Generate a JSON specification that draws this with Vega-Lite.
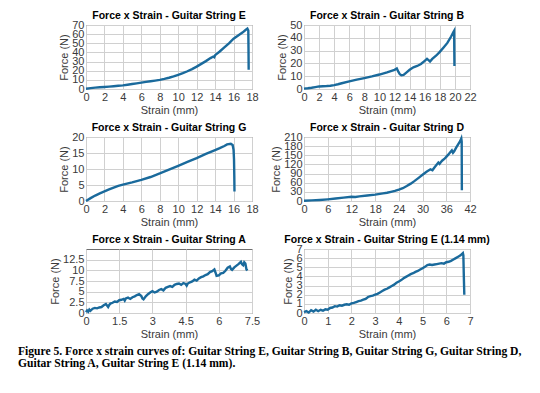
{
  "$schema": "https://vega.github.io/schema/vega-lite/v6.json",
  "background": "white",
  "padding": {"left": 18, "top": 10, "right": 5, "bottom": 5},
  "datasets": {
    "E": [
      {"x":0,"y":0.3},{"x":0.5,"y":1},{"x":1,"y":1.5},{"x":1.5,"y":1.9},{"x":2,"y":2.2},{"x":2.5,"y":2.6},{"x":3,"y":3},{"x":3.5,"y":3.5},{"x":4,"y":4},{"x":4.5,"y":4.7},{"x":5,"y":5.4},{"x":5.5,"y":6.2},{"x":6,"y":7},{"x":6.5,"y":7.8},{"x":7,"y":8.5},{"x":7.5,"y":9.2},{"x":8,"y":10},{"x":8.5,"y":11},{"x":9,"y":12.3},{"x":9.5,"y":13.8},{"x":10,"y":15.5},{"x":10.5,"y":17.3},{"x":11,"y":19.4},{"x":11.5,"y":21.8},{"x":12,"y":24.5},{"x":12.5,"y":27.5},{"x":13,"y":30.5},{"x":13.5,"y":33.8},{"x":13.8,"y":35.5},{"x":13.9,"y":34.8},{"x":14,"y":37},{"x":14.5,"y":41},{"x":15,"y":45.5},{"x":15.5,"y":50},{"x":16,"y":55},{"x":16.5,"y":58.5},{"x":17,"y":62},{"x":17.3,"y":64.5},{"x":17.5,"y":66},{"x":17.6,"y":64},{"x":17.62,"y":45},{"x":17.64,"y":21}
    ],
    "B": [
      {"x":0,"y":0.3},{"x":0.5,"y":0.6},{"x":1,"y":1},{"x":1.5,"y":1.5},{"x":2,"y":2},{"x":2.5,"y":2.2},{"x":3,"y":2.3},{"x":3.5,"y":2.5},{"x":4,"y":3},{"x":4.5,"y":3.7},{"x":5,"y":4.5},{"x":6,"y":6},{"x":7,"y":7.3},{"x":8,"y":8.5},{"x":9,"y":9.8},{"x":10,"y":11.3},{"x":11,"y":13},{"x":11.5,"y":14},{"x":12,"y":15},{"x":12.3,"y":16},{"x":12.5,"y":13.5},{"x":12.7,"y":11.5},{"x":12.9,"y":10.7},{"x":13.2,"y":11},{"x":13.6,"y":13},{"x":14,"y":15},{"x":14.5,"y":17},{"x":15,"y":18},{"x":15.5,"y":19.5},{"x":16,"y":22},{"x":16.3,"y":23.5},{"x":16.5,"y":22.5},{"x":16.7,"y":21.5},{"x":17,"y":23.5},{"x":17.5,"y":26},{"x":18,"y":29},{"x":18.5,"y":32.5},{"x":19,"y":36},{"x":19.5,"y":41},{"x":19.8,"y":44.5},{"x":19.9,"y":45.5},{"x":19.92,"y":30},{"x":19.94,"y":18}
    ],
    "G": [
      {"x":0,"y":0},{"x":0.5,"y":0.9},{"x":1,"y":1.7},{"x":1.5,"y":2.4},{"x":2,"y":3},{"x":2.5,"y":3.6},{"x":3,"y":4.2},{"x":3.5,"y":4.7},{"x":4,"y":5.1},{"x":5,"y":5.8},{"x":6,"y":6.6},{"x":7,"y":7.5},{"x":8,"y":8.6},{"x":9,"y":9.8},{"x":10,"y":11},{"x":11,"y":12.2},{"x":12,"y":13.4},{"x":13,"y":14.7},{"x":14,"y":15.9},{"x":14.5,"y":16.5},{"x":15,"y":17.2},{"x":15.3,"y":17.7},{"x":15.7,"y":17.9},{"x":15.9,"y":17.5},{"x":16,"y":16},{"x":16.05,"y":13},{"x":16.08,"y":8},{"x":16.1,"y":3}
    ],
    "D": [
      {"x":0,"y":1},{"x":2,"y":2},{"x":4,"y":3.5},{"x":6,"y":5.5},{"x":8,"y":8},{"x":10,"y":11},{"x":12,"y":14},{"x":13,"y":13},{"x":14,"y":15},{"x":16,"y":18},{"x":18,"y":21},{"x":20,"y":25},{"x":21,"y":27},{"x":22,"y":30},{"x":23,"y":33},{"x":24,"y":37},{"x":25,"y":42},{"x":26,"y":49},{"x":27,"y":57},{"x":28,"y":66},{"x":29,"y":76},{"x":30,"y":86},{"x":31,"y":96},{"x":31.5,"y":100},{"x":32,"y":104},{"x":32.5,"y":101},{"x":33,"y":110},{"x":33.5,"y":118},{"x":34,"y":126},{"x":34.3,"y":122},{"x":34.6,"y":127},{"x":35,"y":133},{"x":35.5,"y":138},{"x":36,"y":145},{"x":36.5,"y":152},{"x":37,"y":160},{"x":37.4,"y":166},{"x":37.7,"y":158},{"x":38,"y":163},{"x":38.5,"y":175},{"x":39,"y":186},{"x":39.5,"y":196},{"x":39.8,"y":205},{"x":39.9,"y":195},{"x":39.92,"y":110},{"x":39.94,"y":35}
    ],
    "A": [
      {"x":0,"y":0.2},{"x":0.05,"y":0.6},{"x":0.1,"y":0.3},{"x":0.15,"y":0.8},{"x":0.2,"y":0.5},{"x":0.3,"y":1.0},{"x":0.4,"y":1.2},{"x":0.5,"y":1.1},{"x":0.6,"y":1.3},{"x":0.7,"y":1.4},{"x":0.8,"y":1.8},{"x":0.9,"y":2.1},{"x":1.0,"y":1.4},{"x":1.05,"y":1.9},{"x":1.1,"y":2.2},{"x":1.2,"y":2.4},{"x":1.3,"y":2.7},{"x":1.4,"y":2.6},{"x":1.5,"y":3.0},{"x":1.6,"y":3.1},{"x":1.7,"y":3.3},{"x":1.75,"y":2.9},{"x":1.8,"y":3.4},{"x":1.9,"y":3.6},{"x":2.0,"y":3.3},{"x":2.1,"y":3.7},{"x":2.2,"y":3.9},{"x":2.3,"y":4.2},{"x":2.4,"y":4.4},{"x":2.5,"y":4.0},{"x":2.55,"y":3.4},{"x":2.6,"y":3.2},{"x":2.7,"y":3.9},{"x":2.8,"y":4.4},{"x":2.9,"y":4.8},{"x":3.0,"y":5.1},{"x":3.1,"y":4.8},{"x":3.2,"y":5.0},{"x":3.3,"y":5.4},{"x":3.4,"y":5.6},{"x":3.5,"y":5.3},{"x":3.6,"y":5.9},{"x":3.7,"y":6.1},{"x":3.8,"y":6.3},{"x":3.9,"y":6.1},{"x":4.0,"y":6.6},{"x":4.1,"y":6.8},{"x":4.2,"y":6.9},{"x":4.3,"y":6.6},{"x":4.4,"y":7.0},{"x":4.5,"y":6.8},{"x":4.55,"y":6.4},{"x":4.6,"y":6.9},{"x":4.7,"y":7.2},{"x":4.8,"y":7.4},{"x":4.9,"y":7.8},{"x":5.0,"y":7.6},{"x":5.1,"y":8.1},{"x":5.2,"y":8.4},{"x":5.3,"y":8.6},{"x":5.4,"y":8.9},{"x":5.5,"y":9.1},{"x":5.6,"y":9.6},{"x":5.7,"y":9.8},{"x":5.8,"y":10.2},{"x":5.85,"y":9.5},{"x":5.9,"y":8.7},{"x":6.0,"y":8.8},{"x":6.1,"y":9.3},{"x":6.2,"y":9.4},{"x":6.3,"y":9.9},{"x":6.4,"y":10.6},{"x":6.5,"y":10.9},{"x":6.55,"y":10.3},{"x":6.6,"y":10.1},{"x":6.7,"y":10.7},{"x":6.8,"y":11.1},{"x":6.9,"y":11.5},{"x":7.0,"y":12.0},{"x":7.05,"y":11.4},{"x":7.1,"y":11.2},{"x":7.15,"y":11.9},{"x":7.2,"y":11.6},{"x":7.25,"y":10.2},{"x":7.3,"y":10.0}
    ],
    "E2": [
      {"x":0,"y":0.1},{"x":0.1,"y":0.2},{"x":0.2,"y":0.05},{"x":0.3,"y":0.3},{"x":0.4,"y":0.15},{"x":0.5,"y":0.35},{"x":0.6,"y":0.2},{"x":0.7,"y":0.35},{"x":0.8,"y":0.25},{"x":0.9,"y":0.4},{"x":1.0,"y":0.35},{"x":1.1,"y":0.55},{"x":1.2,"y":0.6},{"x":1.3,"y":0.75},{"x":1.4,"y":0.7},{"x":1.5,"y":0.85},{"x":1.6,"y":0.8},{"x":1.7,"y":0.9},{"x":1.8,"y":0.95},{"x":1.9,"y":0.9},{"x":2.0,"y":1.05},{"x":2.1,"y":1.1},{"x":2.2,"y":1.2},{"x":2.3,"y":1.3},{"x":2.4,"y":1.35},{"x":2.5,"y":1.45},{"x":2.6,"y":1.55},{"x":2.7,"y":1.75},{"x":2.8,"y":1.85},{"x":2.9,"y":1.9},{"x":3.0,"y":2.0},{"x":3.1,"y":2.1},{"x":3.2,"y":2.25},{"x":3.3,"y":2.4},{"x":3.4,"y":2.55},{"x":3.5,"y":2.65},{"x":3.6,"y":2.8},{"x":3.7,"y":2.95},{"x":3.8,"y":3.1},{"x":3.9,"y":3.3},{"x":4.0,"y":3.45},{"x":4.1,"y":3.6},{"x":4.2,"y":3.8},{"x":4.3,"y":3.95},{"x":4.4,"y":4.1},{"x":4.5,"y":4.25},{"x":4.6,"y":4.35},{"x":4.7,"y":4.5},{"x":4.8,"y":4.6},{"x":4.9,"y":4.75},{"x":5.0,"y":4.9},{"x":5.1,"y":5.05},{"x":5.2,"y":5.25},{"x":5.3,"y":5.3},{"x":5.4,"y":5.25},{"x":5.5,"y":5.3},{"x":5.6,"y":5.35},{"x":5.7,"y":5.4},{"x":5.8,"y":5.45},{"x":5.9,"y":5.4},{"x":6.0,"y":5.55},{"x":6.1,"y":5.6},{"x":6.2,"y":5.7},{"x":6.3,"y":5.85},{"x":6.4,"y":6.0},{"x":6.5,"y":6.15},{"x":6.6,"y":6.3},{"x":6.7,"y":6.55},{"x":6.72,"y":6.3},{"x":6.74,"y":4},{"x":6.76,"y":2.0}
    ]
  },
  "title": {
    "text": ["Figure 5. Force x strain curves of: Guitar String E, Guitar String B, Guitar String G, Guitar String D,", "Guitar String A, Guitar String E (1.14 mm)."],
    "orient": "bottom", "anchor": "start", "frame": "group", "dx": -68, "offset": 6,
    "font": "Liberation Serif", "fontSize": 11.6, "fontWeight": "bold", "lineHeight": 12, "color": "black"
  },
  "columns": 2,
  "spacing": {"row": 48, "column": 52},
  "bounds": "flush",
  "concat": [
    {
      "data": {"name": "E"}, "title": "Force x Strain - Guitar String E", "width": 166, "height": 64,
      "mark": {"type": "line", "color": "#1a6a9c", "strokeWidth": 2.4},
      "encoding": {
        "x": {"field": "x", "type": "quantitative", "scale": {"domain": [0, 18], "nice": false}, "axis": {"values": [0,2,4,6,8,10,12,14,16,18], "title": "Strain (mm)"}},
        "y": {"field": "y", "type": "quantitative", "scale": {"domain": [0, 70], "nice": false}, "axis": {"values": [0,10,20,30,40,50,60,70], "title": "Force (N)"}}
      }
    },
    {
      "data": {"name": "B"}, "title": "Force x Strain - Guitar String B", "width": 166, "height": 64,
      "mark": {"type": "line", "color": "#1a6a9c", "strokeWidth": 2.4},
      "encoding": {
        "x": {"field": "x", "type": "quantitative", "scale": {"domain": [0, 22], "nice": false}, "axis": {"values": [0,2,4,6,8,10,12,14,16,18,20,22], "title": "Strain (mm)"}},
        "y": {"field": "y", "type": "quantitative", "scale": {"domain": [0, 50], "nice": false}, "axis": {"values": [0,10,20,30,40,50], "title": "Force (N)"}}
      }
    },
    {
      "data": {"name": "G"}, "title": "Force x Strain - Guitar String G", "width": 166, "height": 64,
      "mark": {"type": "line", "color": "#1a6a9c", "strokeWidth": 2.4},
      "encoding": {
        "x": {"field": "x", "type": "quantitative", "scale": {"domain": [0, 18], "nice": false}, "axis": {"values": [0,2,4,6,8,10,12,14,16,18], "title": "Strain (mm)"}},
        "y": {"field": "y", "type": "quantitative", "scale": {"domain": [0, 20], "nice": false}, "axis": {"values": [0,5,10,15,20], "title": "Force (N)"}}
      }
    },
    {
      "data": {"name": "D"}, "title": "Force x Strain - Guitar String D", "width": 166, "height": 64,
      "mark": {"type": "line", "color": "#1a6a9c", "strokeWidth": 2.4},
      "encoding": {
        "x": {"field": "x", "type": "quantitative", "scale": {"domain": [0, 42], "nice": false}, "axis": {"values": [0,6,12,18,24,30,36,42], "title": "Strain (mm)"}},
        "y": {"field": "y", "type": "quantitative", "scale": {"domain": [0, 210], "nice": false}, "axis": {"values": [0,30,60,90,120,150,180,210], "title": "Force (N)"}}
      }
    },
    {
      "data": {"name": "A"}, "title": {"text": "Force x Strain - Guitar String A", "offset": 3.5}, "width": 166, "height": 64,
      "mark": {"type": "line", "color": "#1a6a9c", "strokeWidth": 2.4},
      "encoding": {
        "x": {"field": "x", "type": "quantitative", "scale": {"domain": [0, 7.5], "nice": false}, "axis": {"values": [0,1.5,3,4.5,6,7.5], "labelExpr": "'' + datum.value", "title": "Strain (mm)"}},
        "y": {"field": "y", "type": "quantitative", "scale": {"domain": [0, 15], "nice": false}, "axis": {"values": [0,2.5,5,7.5,10,12.5], "labelExpr": "'' + datum.value", "title": "Force (N)"}}
      }
    },
    {
      "data": {"name": "E2"}, "title": "Force x Strain - Guitar String E (1.14 mm)", "width": 166, "height": 64,
      "mark": {"type": "line", "color": "#1a6a9c", "strokeWidth": 2.4},
      "encoding": {
        "x": {"field": "x", "type": "quantitative", "scale": {"domain": [0, 7], "nice": false}, "axis": {"values": [0,1,2,3,4,5,6,7], "title": "Strain (mm)"}},
        "y": {"field": "y", "type": "quantitative", "scale": {"domain": [0, 7], "nice": false}, "axis": {"values": [0,1,2,3,4,5,6,7], "title": "Force (N)"}}
      }
    }
  ],
  "config": {
    "font": "Liberation Sans",
    "view": {"stroke": "#6e6e6e", "strokeWidth": 1},
    "axis": {
      "labelFont": "Liberation Sans", "labelFontSize": 11, "labelColor": "#3a3a3a",
      "titleFont": "Liberation Sans", "titleFontSize": 11, "titleFontWeight": "normal", "titleColor": "#3a3a3a",
      "domain": false, "ticks": false, "labelPadding": 2, "titlePadding": 2,
      "labelOverlap": false, "labelFlush": false, "labelBound": false,
      "gridColor": "#d0d0d0", "gridOpacity": 1
    },
    "title": {"font": "Liberation Sans", "fontSize": 10.5, "fontWeight": "bold", "color": "black", "offset": -2}
  }
}
